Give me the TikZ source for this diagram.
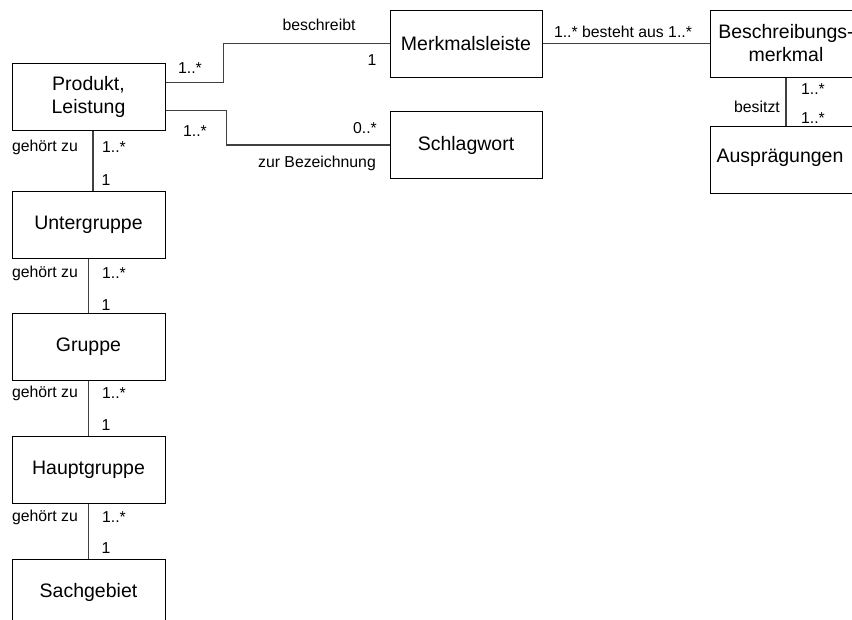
\documentclass[tikz,border=0pt]{standalone}
\usepackage{fontspec}
\setmainfont{Liberation Sans}
\usetikzlibrary{calc}
\tikzset{
  ent/.style={draw=black, line width=1pt, minimum width=153pt, minimum height=67pt, inner sep=0pt, align=center, font=\fontsize{19.5}{23}\selectfont},
  conn/.style={draw=black!75, line width=1.2pt},
  lbl/.style={inner sep=0pt, font=\fontsize{15.8}{18}\selectfont}
}
\begin{document}
\begin{tikzpicture}[x=1pt,y=-1pt]
\useasboundingbox (0,0) rectangle (852,619);
\clip (0,0) rectangle (852,619);
\fill[white] (0,0) rectangle (852,619);
% entities
\node[ent] (P) at (88.5,96.5) {Produkt,\\Leistung};
\node[ent] (U) at (88.5,224.5) {Untergruppe};
\node[ent] (G) at (88.5,346.5) {Gruppe};
\node[ent] (H) at (88.5,469.5) {Hauptgruppe};
\node[ent] (SG) at (88.5,592.5) {Sachgebiet};
\node[ent, minimum width=152pt] (M) at (466,43.5) {Merkmalsleiste};
\node[ent, minimum width=152pt] (S) at (466,145) {Schlagwort};
\node[ent, minimum width=152pt] (B) at (786,43.5) {Beschreibungs-\\merkmal};
\node[ent, minimum width=152pt] (A) at (786,160) {};
\node[inner sep=0pt, font=\fontsize{19.5}{23}\selectfont] (At) at (780,158) {Ausprägungen};
% connectors
\draw[conn] ($(P.north east)+(0,20)$) -- ++(58,0) |- (M.west);
\draw[conn] ($(P.north east)+(0,48)$) -- ++(61,0) |- (S.west);
\draw[conn] (M.east) -- (B.west);
\draw[conn] (B.south) -- (A.north);
\draw[conn] ($(P.south)+(4.5,0)$) -- ($(U.north)+(4.5,0)$);
\draw[conn] (U.south) -- (G.north);
\draw[conn] (G.south) -- (H.north);
\draw[conn] (H.south) -- (SG.north);
% labels
\node[lbl] (l1) at (319,25) {beschreibt};
\node[lbl] (l2) at (372,60) {1};
\node[lbl] (l3) at (190,68) {1..*};
\node[lbl] (l4) at (195,131) {1..*};
\node[lbl] (l5) at (365,128) {0..*};
\node[lbl] (l6) at (317,163) {zur Bezeichnung};
\node[lbl] (l7) at (623,32) {1..* besteht aus 1..*};
\node[lbl] (l8) at (757,107) {besitzt};
\node[lbl] (l9) at (813,89) {1..*};
\node[lbl] (l10) at (813,118) {1..*};
\foreach \y/\z [count=\i] in {147/180, 273/305, 393/425, 517/548}{
  \node[lbl] (g\i) at (45,\y) {gehört zu};
  \node[lbl] (m\i) at (114,\y) {1..*};
  \node[lbl] (o\i) at (106,\z) {1};
}
\end{tikzpicture}
\end{document}
